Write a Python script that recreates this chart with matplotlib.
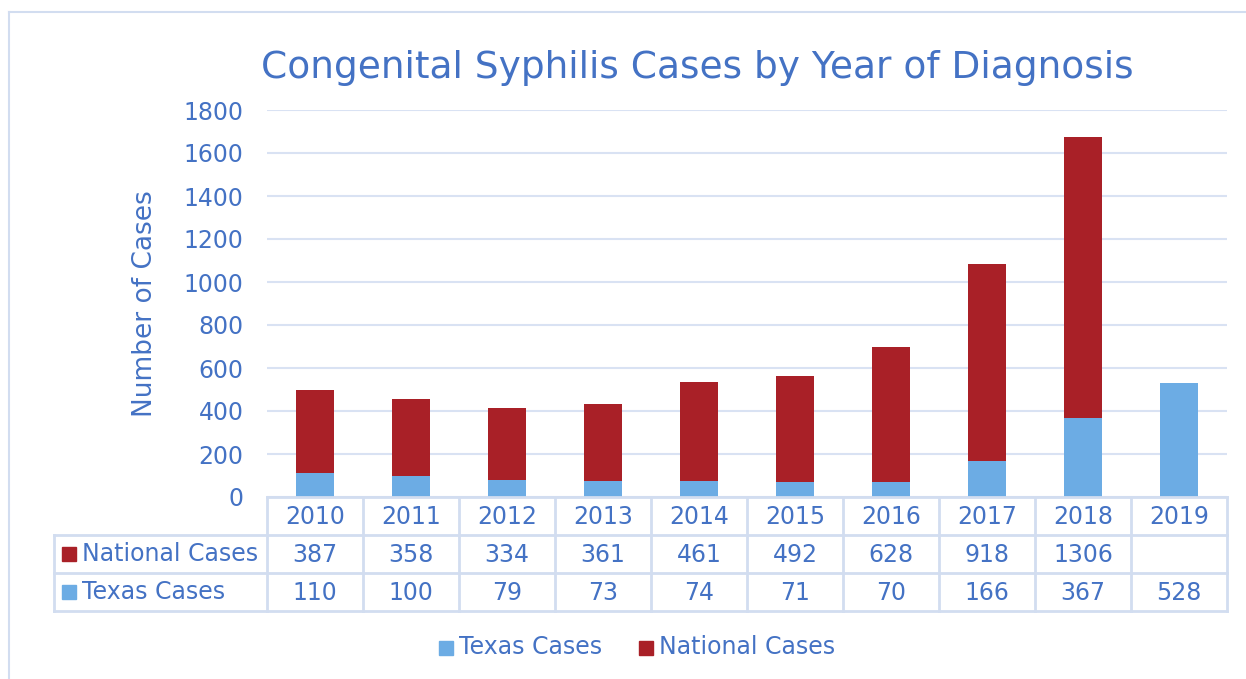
import matplotlib
matplotlib.use("Agg")
import matplotlib.pyplot as plt
from matplotlib.patches import Rectangle
from matplotlib.lines import Line2D
import matplotlib.transforms as mtransforms

years = ["2010", "2011", "2012", "2013", "2014", "2015", "2016", "2017", "2018", "2019"]
texas = [110, 100, 79, 73, 74, 71, 70, 166, 367, 528]
national = [387, 358, 334, 361, 461, 492, 628, 918, 1306, None]
yticks = [0, 200, 400, 600, 800, 1000, 1200, 1400, 1600, 1800]

W, H = 1246, 679
BLUE_TXT = "#4472C4"
RED = "#A92027"
LBLUE = "#6CACE4"
GRID = "#D9E2F3"
BORDER = "#D2DDF0"

plt.rcParams['font.family'] = ['DejaVu Sans']
fig = plt.figure(figsize=(W / 100, H / 100), dpi=100)

def fx(x):
    return x / W

def fy(y):
    return 1 - y / H

# outer chart border
fig.add_artist(Line2D([fx(9), fx(9)], [fy(12), fy(H + 5)], color=BORDER, lw=1.5))
fig.add_artist(Line2D([fx(9), fx(W + 5)], [fy(12), fy(12)], color=BORDER, lw=1.5))

L, R, T, B = 267, 1227, 110, 497
ax = fig.add_axes([fx(L), fy(B), fx(R) - fx(L), fy(T) - fy(B)])
x = list(range(len(years)))
nat_vals = [v if v is not None else 0 for v in national]
ax.bar(x, texas, width=0.4, color=LBLUE, zorder=3)
ax.bar(x, nat_vals, bottom=texas, width=0.4, color=RED, zorder=3)
ax.set_xlim(-0.5, len(years) - 0.5)
ax.set_ylim(0, 1800)
ax.set_yticks(yticks)
ax.set_yticklabels([str(t) for t in yticks])
ax.tick_params(axis='y', length=0, pad=17, labelsize=17, labelcolor=BLUE_TXT)
ax.tick_params(axis='x', length=0, labelbottom=False)
for s in ax.spines.values():
    s.set_visible(False)
ax.grid(axis='y', color=GRID, lw=1.5, zorder=0)
ax.set_ylabel("Number of Cases", fontsize=19, color=BLUE_TXT, labelpad=18)

# title
fig.text(fx(697), fy(68), "Congenital Syphilis Cases by Year of Diagnosis",
         ha='center', va='center', fontsize=27, color=BLUE_TXT)

# data table
rows_y = [497, 535, 573, 611]
col_w = (R - L) / len(years)
tl = 54
fig.add_artist(Line2D([fx(L), fx(R)], [fy(rows_y[0])] * 2, color=BORDER, lw=2))
for ry in rows_y[1:]:
    fig.add_artist(Line2D([fx(tl), fx(R)], [fy(ry)] * 2, color=BORDER, lw=2))
for i in range(len(years) + 1):
    xx = L + i * col_w
    fig.add_artist(Line2D([fx(xx)] * 2, [fy(rows_y[0]), fy(rows_y[3])], color=BORDER, lw=2))
fig.add_artist(Line2D([fx(tl)] * 2, [fy(rows_y[1]), fy(rows_y[3])], color=BORDER, lw=2))

trans = mtransforms.blended_transform_factory(ax.transData, fig.transFigure)
for i, yr in enumerate(years):
    fig.text(i, fy(517), yr, transform=trans, ha='center', va='center', fontsize=17, color=BLUE_TXT)
    if national[i] is not None:
        fig.text(i, fy(555), str(national[i]), transform=trans, ha='center', va='center',
                 fontsize=17, color=BLUE_TXT)
    fig.text(i, fy(593), str(texas[i]), transform=trans, ha='center', va='center',
             fontsize=17, color=BLUE_TXT)

series_rows = [("National Cases", RED, 554), ("Texas Cases", LBLUE, 592)]
for name, col, cy in series_rows:
    fig.add_artist(Rectangle((fx(62), fy(cy + 7)), fx(14), fy(0) - fy(14), color=col))
    fig.text(fx(82), fy(cy), name, ha='left', va='center', fontsize=17, color=BLUE_TXT)

# legend
for name, col, lx in [("Texas Cases", LBLUE, 439), ("National Cases", RED, 639)]:
    fig.add_artist(Rectangle((fx(lx), fy(655)), fx(14), fy(0) - fy(14), color=col))
    fig.text(fx(lx + 20), fy(647), name, ha='left', va='center', fontsize=17, color=BLUE_TXT)

fig.savefig("out.png", dpi=100)
